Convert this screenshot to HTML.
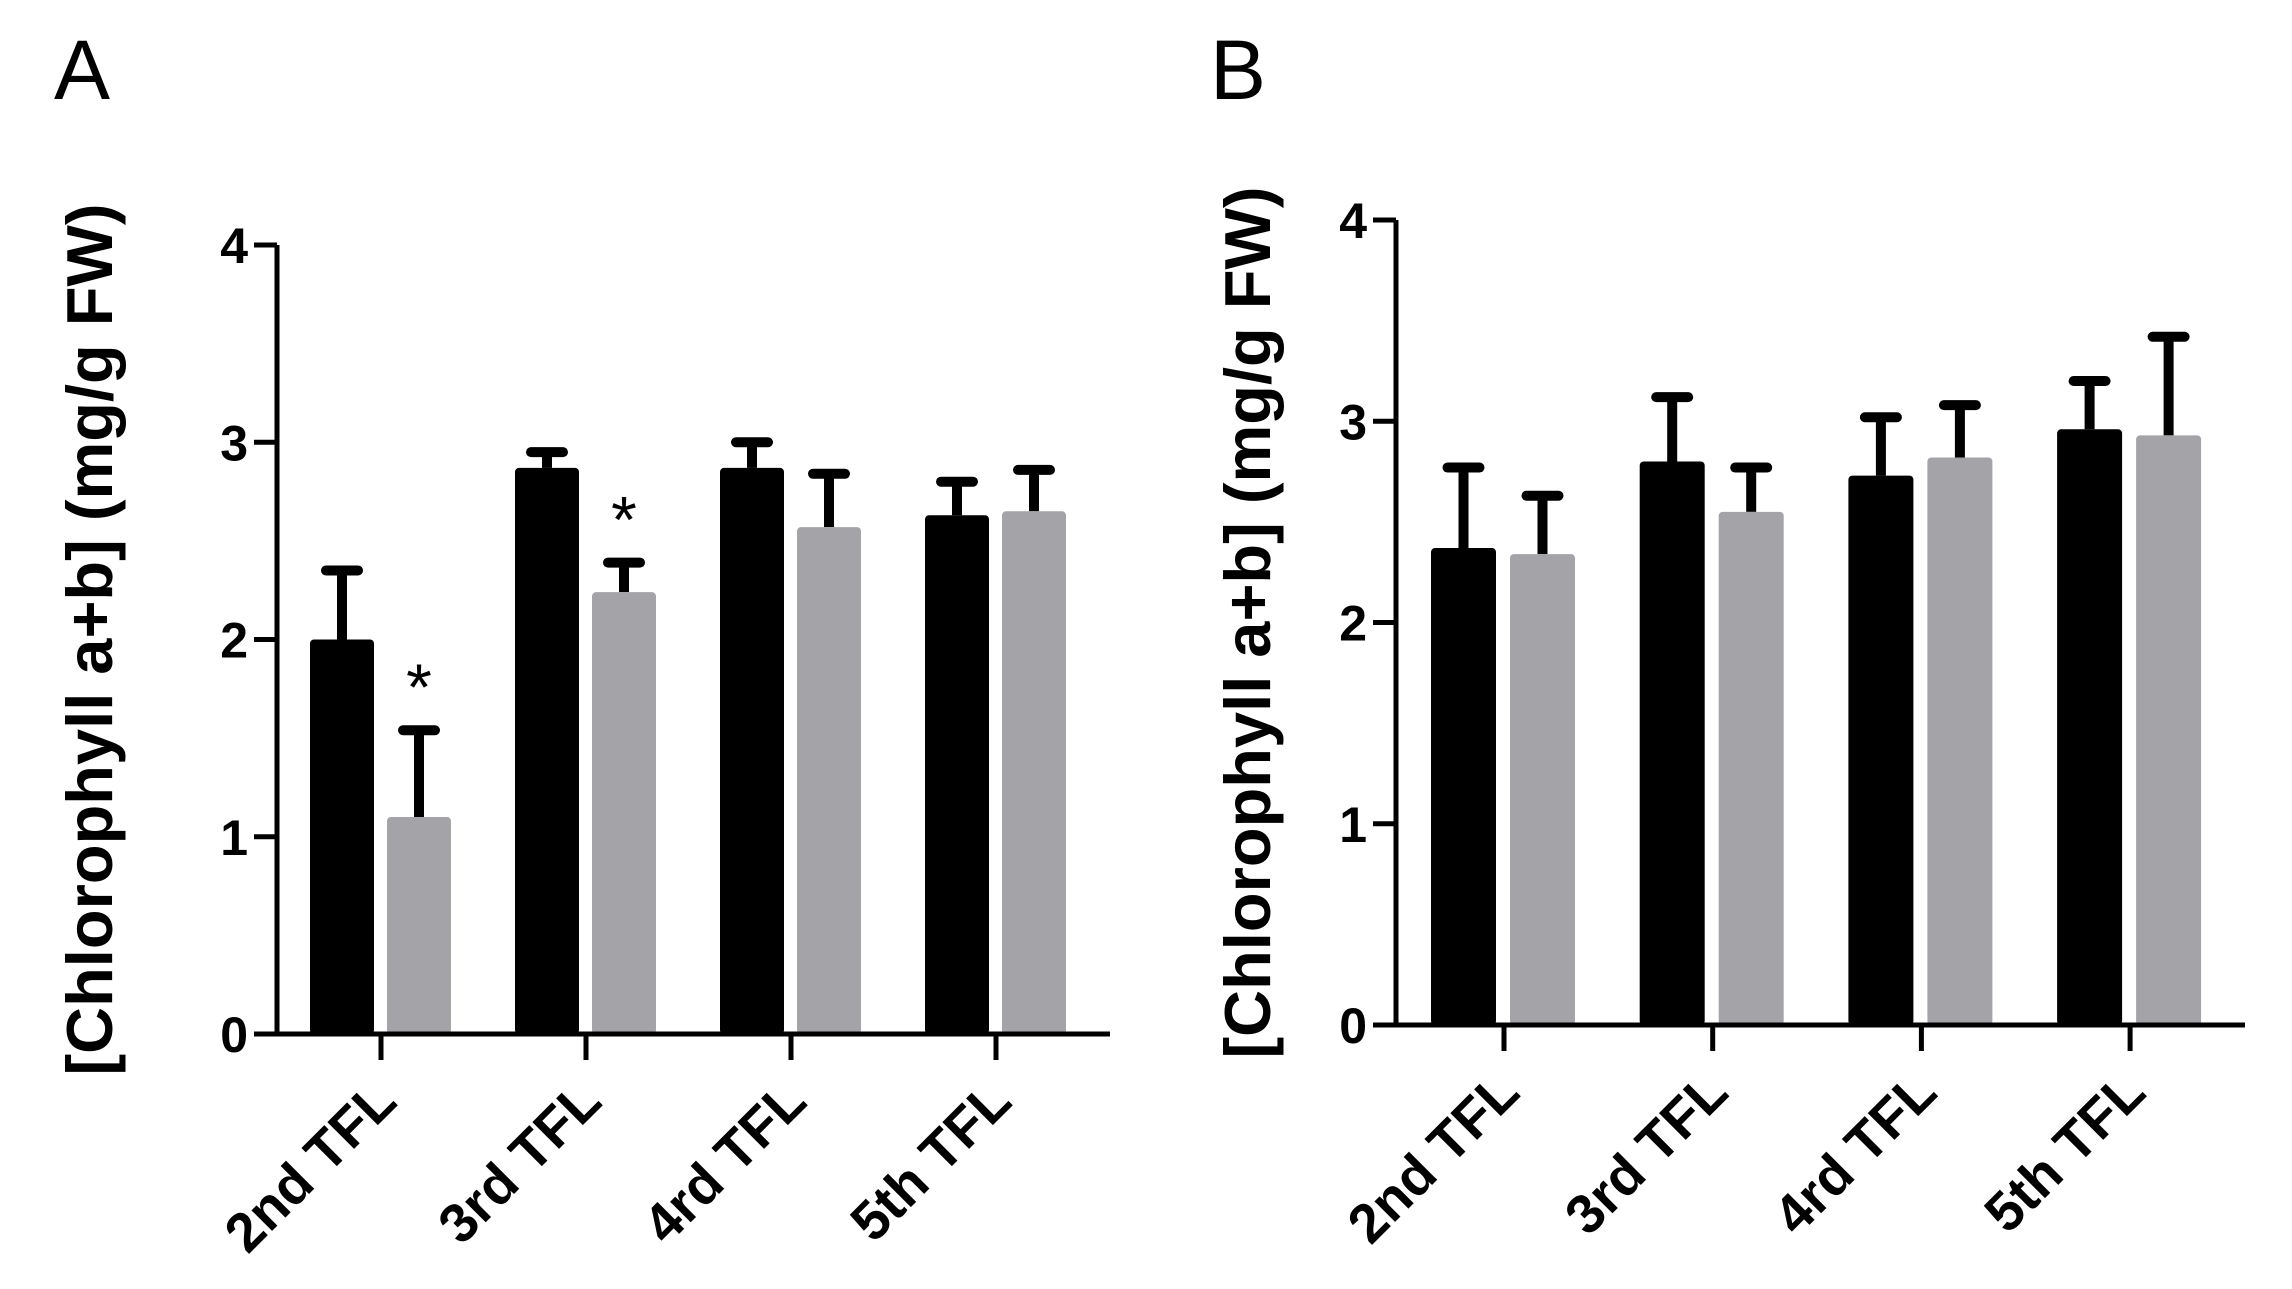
<!DOCTYPE html>
<html><head><meta charset="utf-8"><style>
html,body{margin:0;padding:0;background:#fff;}
svg{display:block;font-family:"Liberation Sans",Arial,sans-serif;}
</style></head><body>
<svg id="fig" width="2292" height="1289" viewBox="0 0 2292 1289" xmlns="http://www.w3.org/2000/svg"></svg>
<script>
const categories = ["2nd TFL","3rd TFL","4rd TFL","5th TFL"];
const yTicks = [0,1,2,3,4];
const aBlack = [2.0, 2.87, 2.87, 2.63];
const aBlackTop = [2.35, 2.95, 3.0, 2.8];
const aGray = [1.1, 2.24, 2.57, 2.65];
const aGrayTop = [1.54, 2.39, 2.84, 2.86];
const aStars = [true, true, false, false];
const bBlack = [2.37, 2.8, 2.73, 2.96];
const bBlackTop = [2.77, 3.12, 3.02, 3.2];
const bGray = [2.34, 2.55, 2.82, 2.93];
const bGrayTop = [2.63, 2.77, 3.08, 3.42];

const NS="http://www.w3.org/2000/svg";
const svg=document.getElementById('fig');
function mk(tag,attrs,parent){const e=document.createElementNS(NS,tag);for(const k in attrs)e.setAttribute(k,attrs[k]);(parent||svg).appendChild(e);return e;}

function panel(cfg){
  const g=mk('g',{});
  
  
  const y=v=>cfg.y0-(cfg.y0-cfg.y4)*v/4;
  const cx=i=>cfg.tick0+i*cfg.step;
  const L=mk('text',{x:cfg.letterX,y:99,'font-size':84,fill:'#000'},g);L.textContent=cfg.letter;
  
  
  const t=mk('text',{x:0,y:0,'font-size':65,'font-weight':'bold','text-anchor':'middle',transform:`translate(${cfg.titleX},${(cfg.y0+cfg.y4)/2}) rotate(-90)`},g);
  t.textContent='[Chlorophyll a+b] (mg/g FW)';
  
  
  for(let i=0;i<categories.length;i++){
    const sets=[[cfg.black[i],cfg.blackTop[i],'#000',cfg.bOff,'black'],[cfg.gray[i],cfg.grayTop[i],'#a4a3a8',cfg.gOff,'gray']];
    for(const [v,top,col,off,nm] of sets){
      const x=cx(i)+off;
      const ey=mk('line',{x1:x+cfg.bw/2,x2:x+cfg.bw/2,y1:y(v),y2:y(top),stroke:'#000','stroke-width':10},g);
      
      
      const cap=mk('line',{x1:x+cfg.bw/2-16,x2:x+cfg.bw/2+16,y1:y(top),y2:y(top),stroke:'#000','stroke-width':10,'stroke-linecap':'round'},g);
      
      
      const r=mk('rect',{x:x,y:y(v),width:cfg.bw,height:cfg.y0-y(v),fill:col,rx:4},g);
      
      
    }
    if(cfg.stars&&cfg.stars[i]){
      const s=mk('text',{x:cx(i)+cfg.gOff+cfg.bw/2,y:y(cfg.grayTop[i])-20,'font-size':66,'text-anchor':'middle'},g);
      s.textContent='*';
      
      
    }
    const tk=mk('line',{x1:cx(i),x2:cx(i),y1:cfg.y0,y2:cfg.y0+26,stroke:'#000','stroke-width':5},g);
    
    
    const lab=mk('text',{x:0,y:0,'font-size':55,'font-weight':'bold','text-anchor':'end',transform:`translate(${cx(i)+18},${cfg.y0+70}) rotate(-45)`},g);
    lab.textContent=categories[i];
    
    
  }
  const ya=mk('line',{x1:cfg.ax,x2:cfg.ax,y1:cfg.y4,y2:cfg.y0+2,stroke:'#000','stroke-width':5},g);
  
  
  const xa=mk('line',{x1:cfg.xStart,x2:cfg.xEnd,y1:cfg.y0,y2:cfg.y0,stroke:'#000','stroke-width':5},g);
  
  
  for(const v of yTicks){
    const tl=mk('line',{x1:cfg.ax-23,x2:cfg.ax,y1:y(v),y2:y(v),stroke:'#000','stroke-width':5},g);
    
    
    const tt=mk('text',{x:cfg.ax-29,y:y(v)+18,'font-size':50,'font-weight':'bold','text-anchor':'end'},g);
    tt.textContent=v;
    
    
  }
}
panel({letter:'A',letterX:54,titleX:112,ax:277,y4:245,y0:1034,xStart:256,xEnd:1110,tick0:381,step:205,bOff:-71,gOff:6,bw:64,
  black:aBlack,blackTop:aBlackTop,gray:aGray,grayTop:aGrayTop,stars:aStars});
panel({letter:'B',letterX:1210,titleX:1270,ax:1396,y4:220,y0:1025,xStart:1374,xEnd:2245,tick0:1504,step:208.7,bOff:-73,gOff:6,bw:65,
  black:bBlack,blackTop:bBlackTop,gray:bGray,grayTop:bGrayTop,stars:null});
</script>
</body></html>
